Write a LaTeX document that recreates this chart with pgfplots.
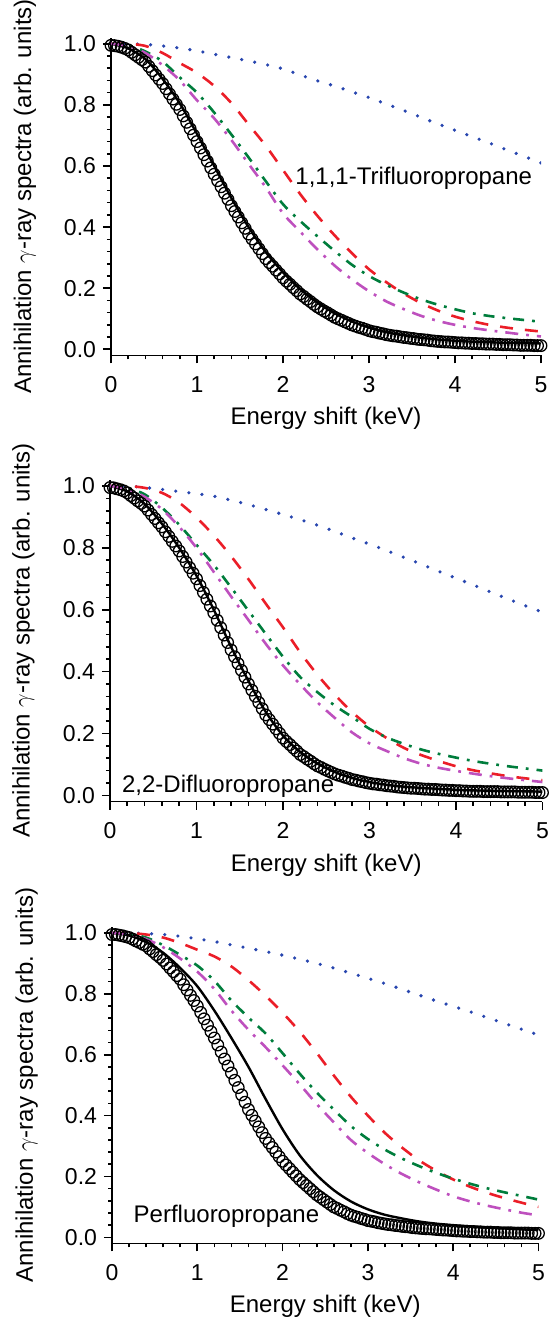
\documentclass[border=0pt]{standalone}
\usepackage{pgfplots}
\pgfplotsset{compat=1.18}
\usepackage{pgfplotstable}
\usepackage{fontspec}
\setmainfont{Liberation Sans}
\definecolor{cblue}{RGB}{40,70,175}
\definecolor{cred}{RGB}{235,30,40}
\definecolor{cgreen}{RGB}{0,125,60}
\definecolor{cmag}{RGB}{190,80,190}

% experimental points (circles), one column per panel
\pgfplotstableread{
x c1 c2 c3
0.00 0.995 0.995 0.995
0.04 0.994 0.994 0.995
0.08 0.992 0.991 0.993
0.12 0.989 0.988 0.991
0.16 0.985 0.984 0.988
0.20 0.980 0.978 0.985
0.24 0.972 0.969 0.980
0.28 0.964 0.961 0.974
0.32 0.956 0.952 0.969
0.36 0.948 0.944 0.963
0.40 0.940 0.935 0.958
0.44 0.926 0.922 0.948
0.48 0.912 0.908 0.939
0.52 0.898 0.895 0.929
0.56 0.884 0.881 0.920
0.60 0.870 0.868 0.910
0.64 0.853 0.852 0.898
0.68 0.836 0.837 0.885
0.72 0.819 0.821 0.873
0.76 0.802 0.806 0.860
0.80 0.785 0.790 0.848
0.84 0.764 0.772 0.830
0.88 0.743 0.754 0.813
0.92 0.722 0.736 0.795
0.96 0.701 0.718 0.778
1.00 0.680 0.700 0.760
1.04 0.659 0.678 0.739
1.08 0.637 0.656 0.718
1.12 0.616 0.634 0.697
1.16 0.594 0.612 0.676
1.20 0.573 0.590 0.655
1.24 0.552 0.566 0.632
1.28 0.532 0.542 0.609
1.32 0.511 0.518 0.586
1.36 0.491 0.494 0.563
1.40 0.470 0.470 0.540
1.44 0.451 0.448 0.516
1.48 0.433 0.426 0.492
1.52 0.414 0.404 0.468
1.56 0.396 0.382 0.444
1.60 0.377 0.360 0.420
1.64 0.361 0.340 0.401
1.68 0.345 0.320 0.382
1.72 0.329 0.300 0.363
1.76 0.313 0.280 0.344
1.80 0.297 0.260 0.325
1.84 0.284 0.245 0.310
1.88 0.272 0.230 0.295
1.92 0.259 0.215 0.280
1.96 0.247 0.200 0.265
2.00 0.234 0.185 0.250
2.04 0.223 0.174 0.238
2.08 0.213 0.164 0.226
2.12 0.202 0.153 0.214
2.16 0.192 0.143 0.202
2.20 0.181 0.132 0.190
2.24 0.173 0.125 0.180
2.28 0.164 0.117 0.170
2.32 0.156 0.110 0.160
2.36 0.147 0.102 0.150
2.40 0.139 0.095 0.140
2.44 0.132 0.090 0.132
2.48 0.125 0.084 0.124
2.52 0.119 0.079 0.116
2.56 0.112 0.074 0.108
2.60 0.105 0.069 0.100
2.64 0.100 0.065 0.095
2.68 0.095 0.062 0.089
2.72 0.090 0.058 0.084
2.76 0.085 0.055 0.078
2.80 0.080 0.051 0.073
2.84 0.076 0.049 0.069
2.88 0.072 0.046 0.066
2.92 0.069 0.044 0.062
2.96 0.065 0.041 0.059
3.00 0.061 0.039 0.055
3.04 0.058 0.037 0.053
3.08 0.056 0.036 0.051
3.12 0.053 0.034 0.048
3.16 0.051 0.033 0.046
3.20 0.048 0.031 0.044
3.24 0.046 0.030 0.042
3.28 0.044 0.029 0.041
3.32 0.043 0.027 0.039
3.36 0.041 0.026 0.038
3.40 0.039 0.025 0.036
3.44 0.038 0.024 0.035
3.48 0.036 0.023 0.034
3.52 0.035 0.023 0.032
3.56 0.033 0.022 0.031
3.60 0.032 0.021 0.030
3.64 0.031 0.020 0.029
3.68 0.030 0.020 0.028
3.72 0.028 0.019 0.028
3.76 0.027 0.019 0.027
3.80 0.026 0.018 0.026
3.84 0.025 0.017 0.025
3.88 0.024 0.017 0.024
3.92 0.024 0.016 0.024
3.96 0.023 0.016 0.023
4.00 0.022 0.015 0.022
4.04 0.021 0.015 0.021
4.08 0.021 0.014 0.021
4.12 0.020 0.014 0.020
4.16 0.020 0.013 0.020
4.20 0.019 0.013 0.019
4.24 0.019 0.013 0.019
4.28 0.018 0.013 0.018
4.32 0.018 0.012 0.018
4.36 0.017 0.012 0.017
4.40 0.017 0.012 0.017
4.44 0.017 0.012 0.017
4.48 0.016 0.012 0.016
4.52 0.016 0.011 0.016
4.56 0.015 0.011 0.015
4.60 0.015 0.011 0.015
4.64 0.015 0.011 0.015
4.68 0.014 0.011 0.015
4.72 0.014 0.010 0.014
4.76 0.013 0.010 0.014
4.80 0.013 0.010 0.014
4.84 0.013 0.010 0.014
4.88 0.013 0.010 0.014
4.92 0.012 0.009 0.013
4.96 0.012 0.009 0.013
5.00 0.012 0.009 0.013
}\circles

% panel 1: 1,1,1-trifluoropropane  (s solid, b blue dotted, r red dashed, g green, m magenta)
\pgfplotstableread{
x s b r g m
0.0 1.000 1.000 1.000 1.000 1.000
0.2 0.985 1.000 1.000 0.995 0.993
0.4 0.950 0.998 0.993 0.975 0.970
0.6 0.885 0.993 0.970 0.942 0.930
0.8 0.805 0.986 0.937 0.890 0.880
1.0 0.705 0.977 0.905 0.840 0.815
1.2 0.600 0.966 0.862 0.775 0.756
1.4 0.495 0.955 0.806 0.703 0.685
1.6 0.400 0.944 0.736 0.628 0.607
1.8 0.318 0.932 0.666 0.550 0.530
2.0 0.252 0.918 0.587 0.475 0.445
2.2 0.197 0.898 0.508 0.420 0.385
2.4 0.153 0.879 0.437 0.370 0.327
2.6 0.118 0.862 0.373 0.322 0.274
2.8 0.091 0.843 0.315 0.277 0.229
3.0 0.071 0.824 0.262 0.240 0.190
3.2 0.056 0.803 0.220 0.211 0.157
3.4 0.046 0.782 0.183 0.186 0.132
3.6 0.038 0.760 0.152 0.164 0.110
3.8 0.032 0.738 0.127 0.146 0.093
4.0 0.028 0.717 0.107 0.131 0.080
4.2 0.025 0.696 0.092 0.118 0.070
4.4 0.023 0.675 0.080 0.109 0.062
4.6 0.021 0.653 0.071 0.102 0.055
4.8 0.020 0.632 0.064 0.096 0.048
5.0 0.019 0.610 0.058 0.090 0.042
}\pA

% panel 2: 2,2-difluoropropane
\pgfplotstableread{
x s b r g m
0.0 1.000 1.000 1.000 1.000 1.000
0.2 0.982 1.000 1.000 0.994 0.990
0.4 0.942 0.995 0.994 0.973 0.965
0.6 0.878 0.989 0.978 0.930 0.925
0.8 0.800 0.982 0.946 0.875 0.868
1.0 0.710 0.975 0.898 0.810 0.800
1.2 0.600 0.967 0.840 0.745 0.722
1.4 0.480 0.954 0.773 0.672 0.643
1.6 0.370 0.940 0.699 0.597 0.567
1.8 0.270 0.924 0.620 0.522 0.490
2.0 0.193 0.908 0.543 0.448 0.420
2.2 0.140 0.891 0.462 0.382 0.358
2.4 0.102 0.873 0.389 0.333 0.300
2.6 0.075 0.853 0.325 0.290 0.250
2.8 0.056 0.832 0.269 0.253 0.203
3.0 0.043 0.812 0.222 0.215 0.168
3.2 0.034 0.791 0.185 0.187 0.143
3.4 0.028 0.769 0.153 0.166 0.120
3.6 0.024 0.747 0.130 0.148 0.102
3.8 0.021 0.724 0.111 0.134 0.089
4.0 0.018 0.702 0.094 0.122 0.079
4.2 0.016 0.680 0.081 0.111 0.070
4.4 0.015 0.657 0.071 0.102 0.062
4.6 0.014 0.635 0.062 0.094 0.055
4.8 0.013 0.613 0.055 0.087 0.049
5.0 0.012 0.592 0.049 0.080 0.043
}\pB

% panel 3: perfluoropropane
\pgfplotstableread{
x s b r g m
0.0 1.000 1.000 1.000 1.000 1.000
0.2 0.992 1.000 1.000 0.996 0.995
0.4 0.970 0.998 0.995 0.985 0.980
0.6 0.935 0.995 0.985 0.960 0.953
0.8 0.885 0.989 0.967 0.928 0.916
1.0 0.825 0.981 0.945 0.893 0.873
1.2 0.745 0.972 0.923 0.843 0.816
1.4 0.655 0.961 0.890 0.778 0.745
1.6 0.560 0.950 0.845 0.722 0.682
1.8 0.455 0.939 0.794 0.670 0.625
2.0 0.355 0.927 0.738 0.605 0.565
2.2 0.270 0.914 0.676 0.538 0.503
2.4 0.205 0.900 0.606 0.476 0.438
2.6 0.155 0.885 0.532 0.420 0.378
2.8 0.118 0.868 0.462 0.366 0.320
3.0 0.092 0.851 0.400 0.323 0.277
3.2 0.074 0.834 0.343 0.288 0.240
3.4 0.062 0.815 0.295 0.259 0.208
3.6 0.052 0.796 0.253 0.234 0.181
3.8 0.045 0.777 0.219 0.212 0.157
4.0 0.040 0.759 0.190 0.193 0.135
4.2 0.036 0.741 0.166 0.176 0.118
4.4 0.032 0.722 0.146 0.161 0.104
4.6 0.029 0.703 0.129 0.148 0.092
4.8 0.026 0.684 0.114 0.136 0.081
5.0 0.024 0.665 0.100 0.124 0.072
}\pC

\pgfplotsset{
  panel/.style={
    scale only axis, anchor=south west,
    xmin=0, xmax=5, ymin=-0.02, ymax=1.02,
    axis x line=bottom, axis y line=left,
    axis line style={-, line width=0.8bp},
    tick align=outside,
    major tick length=4bp, minor tick length=2bp,
    tick style={black, line width=0.8bp},
    xtick={0,1,2,3,4,5}, ytick={0,0.2,0.4,0.6,0.8,1},
    minor x tick num=4, minor y tick num=4,
    yticklabel style={/pgf/number format/.cd, fixed, fixed zerofill, precision=1},
    xticklabel style={yshift=-3bp},
    /pgf/number format/assume math mode=true,
    tick label style={font=\fontsize{11.5bp}{14bp}\selectfont},
    label style={font=\fontsize{12bp}{14bp}\selectfont},
    xlabel={Energy shift (keV)},
    ylabel={Annihilation $\gamma$-ray spectra (arb. units)},
    xlabel style={at={(axis description cs:0.5,-0.217)}, anchor=base},
    ylabel style={at={(axis description cs:-0.2,0.5)}, anchor=center},
  },
  circ/.style={black, only marks, mark=o, mark size=2.9bp, mark options={line width=0.65bp}},
  sol/.style={black, line width=1.2bp, smooth, no marks},
  bdot/.style={cblue, line width=1.8bp, line cap=round, dash pattern=on 0bp off 6.6bp, smooth, no marks},
  rdash/.style={cred, line width=1.3bp, dash pattern=on 6.5bp off 6bp, smooth, no marks},
  gdd/.style={cgreen, line width=1.3bp, dash pattern=on 5.5bp off 4bp on 1.4bp off 4bp, smooth, no marks},
  mdd/.style={cmag, line width=1.3bp, dash pattern=on 6.5bp off 4bp on 1.4bp off 4bp, smooth, no marks},
}
\tikzset{lbl/.style={anchor=base west, inner sep=0pt, font=\fontsize{12bp}{14bp}\selectfont}}

\begin{document}
\begin{tikzpicture}
\useasboundingbox (0,0) rectangle (275bp,-659bp);

\begin{axis}[panel, width=215bp, height=158.85bp, at={(55.5bp,-177.7bp)}]
\addplot[circ] table[x=x,y=c1]{\circles};
\addplot[sol] table[x=x,y=s]{\pA};
\addplot[bdot] table[x=x,y=b]{\pA};
\addplot[rdash] table[x=x,y=r]{\pA};
\addplot[gdd] table[x=x,y=g]{\pA};
\addplot[mdd] table[x=x,y=m]{\pA};
\node[lbl] at (axis cs:2.14,0.538) {1,1,1-Trifluoropropane};
\end{axis}

\begin{axis}[panel, width=216.25bp, height=160.85bp, at={(55bp,-400.75bp)}]
\addplot[circ] table[x=x,y=c2]{\circles};
\addplot[sol] table[x=x,y=s]{\pB};
\addplot[bdot] table[x=x,y=b]{\pB};
\addplot[rdash] table[x=x,y=r]{\pB};
\addplot[gdd] table[x=x,y=g]{\pB};
\addplot[mdd] table[x=x,y=m]{\pB};
\node[lbl] at (axis cs:0.135,0.01) {2,2-Difluoropropane};
\end{axis}

\begin{axis}[panel, width=213.25bp, height=158.25bp, at={(56bp,-621.7bp)}]
\addplot[circ] table[x=x,y=c3]{\circles};
\addplot[sol] table[x=x,y=s]{\pC};
\addplot[bdot] table[x=x,y=b]{\pC};
\addplot[rdash] table[x=x,y=r]{\pC};
\addplot[gdd] table[x=x,y=g]{\pC};
\addplot[mdd] table[x=x,y=m]{\pC};
\node[lbl] at (axis cs:0.25,0.05) {Perfluoropropane};
\end{axis}
\end{tikzpicture}
\end{document}
